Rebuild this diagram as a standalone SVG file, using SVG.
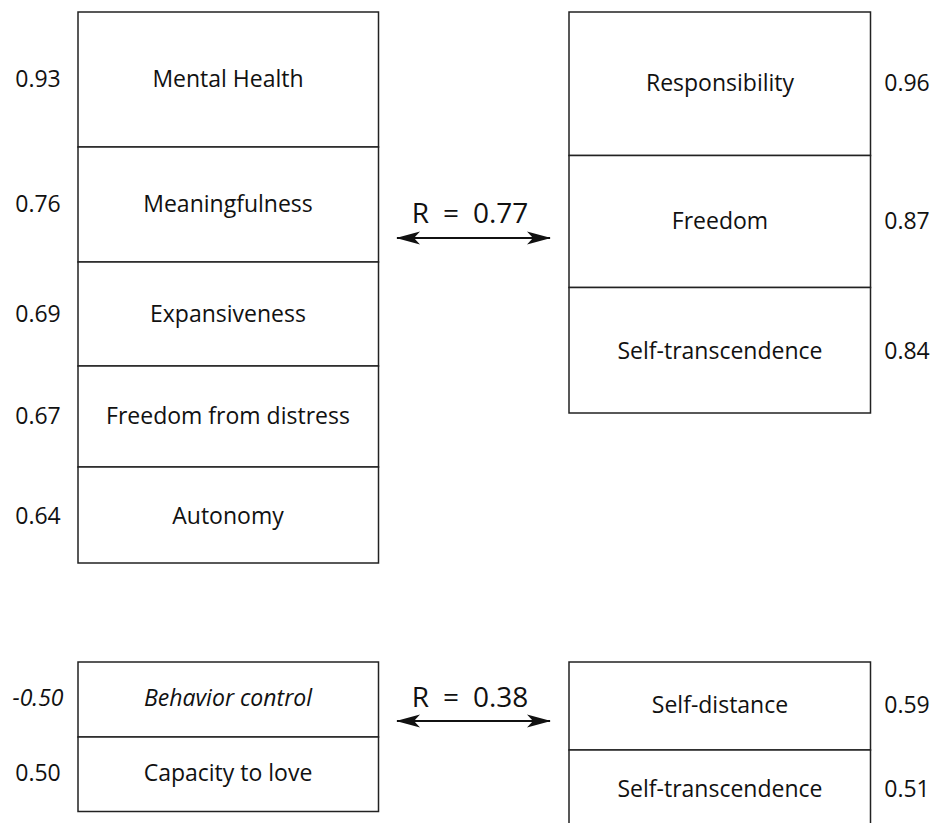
<svg xmlns="http://www.w3.org/2000/svg" width="934" height="823" viewBox="0 0 934 823">
<style>
  .box { fill: #ffffff; stroke: #222222; stroke-width: 1.5; }
  .lbl { font-family: "Open Sans", "Noto Sans", sans-serif; font-size: 23px; fill: #111111; text-anchor: middle; }
  .num { font-family: "Open Sans", "Noto Sans", sans-serif; font-size: 23px; fill: #111111; text-anchor: middle; }
  .it { font-style: italic; }
  .r { font-family: "Open Sans", "Noto Sans", sans-serif; font-size: 28px; fill: #111111; text-anchor: middle; }
  .conn { stroke: #111111; stroke-width: 2.2; fill: none; }
</style>
<defs>
  <marker id="ah" markerUnits="userSpaceOnUse" markerWidth="24" markerHeight="16" viewBox="0 0 24 16" refX="23" refY="8" orient="auto-start-reverse">
    <path d="M0,1.5 L24,8 L0,14.5 L6,8 Z" fill="#111111"/>
  </marker>
</defs>

<g id="mental-health">
  <rect class="box" x="78" y="12" width="300.5" height="135"/>
  <text class="lbl" x="228" y="87">Mental Health</text>
  <text class="num" x="38" y="87">0.93</text>
</g>
<g id="meaningfulness">
  <rect class="box" x="78" y="147" width="300.5" height="115"/>
  <text class="lbl" x="228" y="212">Meaningfulness</text>
  <text class="num" x="38" y="212">0.76</text>
</g>
<g id="expansiveness">
  <rect class="box" x="78" y="262" width="300.5" height="104"/>
  <text class="lbl" x="228" y="321.5">Expansiveness</text>
  <text class="num" x="38" y="321.5">0.69</text>
</g>
<g id="freedom-from-distress">
  <rect class="box" x="78" y="366" width="300.5" height="101"/>
  <text class="lbl" x="228" y="424">Freedom from distress</text>
  <text class="num" x="38" y="424">0.67</text>
</g>
<g id="autonomy">
  <rect class="box" x="78" y="467" width="300.5" height="96"/>
  <text class="lbl" x="228" y="523.5">Autonomy</text>
  <text class="num" x="38" y="523.5">0.64</text>
</g>

<g id="responsibility">
  <rect class="box" x="569" y="12" width="301.5" height="143.5"/>
  <text class="lbl" x="720" y="91">Responsibility</text>
  <text class="num" x="907" y="91">0.96</text>
</g>
<g id="freedom">
  <rect class="box" x="569" y="155.5" width="301.5" height="132"/>
  <text class="lbl" x="720" y="229">Freedom</text>
  <text class="num" x="907" y="229">0.87</text>
</g>
<g id="self-transcendence-1">
  <rect class="box" x="569" y="287.5" width="301.5" height="125.5"/>
  <text class="lbl" x="720" y="359">Self-transcendence</text>
  <text class="num" x="907" y="359">0.84</text>
</g>

<g id="behavior-control">
  <rect class="box" x="78" y="662" width="300.5" height="75"/>
  <text class="lbl it" x="228" y="706">Behavior control</text>
  <text class="num it" x="38" y="706">-0.50</text>
</g>
<g id="capacity-to-love">
  <rect class="box" x="78" y="737" width="300.5" height="74.5"/>
  <text class="lbl" x="228" y="780.5">Capacity to love</text>
  <text class="num" x="38" y="780.5">0.50</text>
</g>

<g id="self-distance">
  <rect class="box" x="569" y="662" width="301.5" height="88"/>
  <text class="lbl" x="720" y="712.5">Self-distance</text>
  <text class="num" x="907" y="712.5">0.59</text>
</g>
<g id="self-transcendence-2">
  <rect class="box" x="569" y="750" width="301.5" height="90"/>
  <text class="lbl" x="720" y="796.5">Self-transcendence</text>
  <text class="num" x="907" y="796.5">0.51</text>
</g>

<g id="connectors">
  <line class="conn" x1="397" y1="238" x2="550" y2="238" marker-start="url(#ah)" marker-end="url(#ah)"/>
  <text class="r" x="470" y="223">R&#8194;=&#8194;0.77</text>
  <line class="conn" x1="397" y1="721" x2="550" y2="721" marker-start="url(#ah)" marker-end="url(#ah)"/>
  <text class="r" x="470" y="706.5">R&#8194;=&#8194;0.38</text>
</g>
</svg>
